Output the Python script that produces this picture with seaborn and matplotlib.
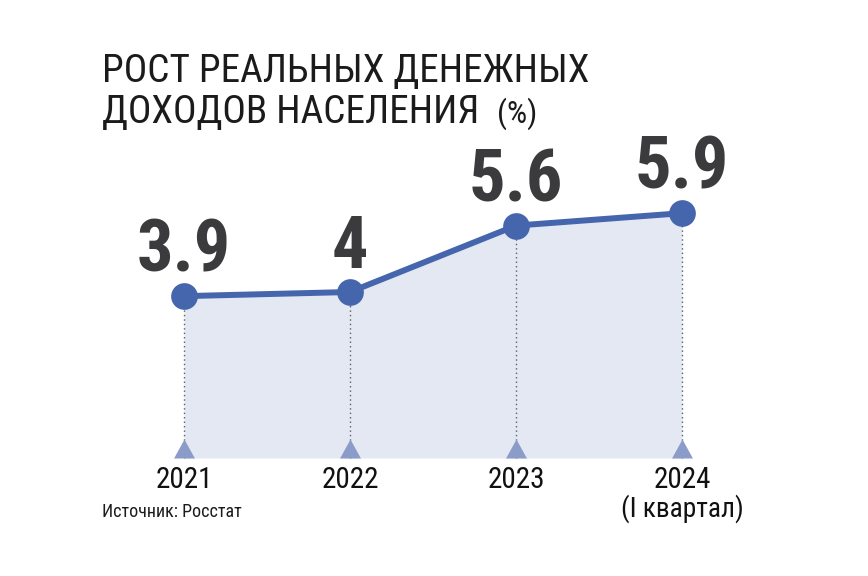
import numpy as np
import pandas as pd
import matplotlib
matplotlib.use("Agg")
import matplotlib.pyplot as plt
import seaborn as sns

years = ["2021", "2022", "2023", "2024"]
year_notes = ["", "", "", "(I квартал)"]
values = [3.9, 4.0, 5.6, 5.9]
value_labels = ["3.9", "4", "5.6", "5.9"]
title_lines = ["РОСТ РЕАЛЬНЫХ ДЕНЕЖНЫХ", "ДОХОДОВ НАСЕЛЕНИЯ"]
unit_label = "(%)"
source_label = "Источник: Росстат"

W, H = 868, 576
X0, DX = 184, 166      # pixel position of the first year, pixels per year
Y0, DY = 458, 41.5     # pixel position of zero, pixels per percent

sns.set_theme(style="white")
plt.rcParams["font.family"] = ["Roboto Condensed", "Liberation Sans", "DejaVu Sans"]

LINE = "#4566ad"
FILL = "#e4e8f3"
TRI = "#8c9cc9"

df = pd.DataFrame({"x": np.arange(len(values)), "value": values})

fig = plt.figure(figsize=(W / 100, H / 100), dpi=100)
ax = fig.add_axes([0, 0, 1, 1])
ax.set_xlim(-X0 / DX, (W - X0) / DX)
ax.set_ylim((Y0 - H) / DY, Y0 / DY)
ax.axis("off")

ax.fill_between(df["x"], 0, df["value"], color=FILL, lw=0, zorder=1)
ax.vlines(df["x"], 0, df["value"], color="#56625c", lw=1, linestyles=(0, (1, 2.2)), zorder=2)

sns.lineplot(data=df, x="x", y="value", color=LINE, lw=4.3, ax=ax, zorder=3)
sns.scatterplot(data=df, x="x", y="value", color=LINE, s=370, linewidth=0, ax=ax, zorder=4, clip_on=False)

# triangles sit with their base on the zero line
tri = [(-0.55, 0), (0.55, 0), (0, 1)]
sns.scatterplot(x=df["x"], y=[0] * len(df), marker=tri, color=TRI, s=750, linewidth=0, ax=ax, zorder=3)
ax.set_xlabel("")
ax.set_ylabel("")

for x, v, lab in zip(df["x"], values, value_labels):
    ax.annotate(lab, (x, v), xytext=(0, 17.5), textcoords="offset points", ha="center", va="baseline",
                fontsize=52, fontweight="bold", color="#3b3b3d")

for x, lab, note in zip(df["x"], years, year_notes):
    ax.annotate(lab, (x, 0), xytext=(0, -21.5), textcoords="offset points", ha="center", va="baseline",
                fontsize=21, color="#111111")
    if note:
        ax.annotate(note, (x, 0), xytext=(0, -42), textcoords="offset points", ha="center", va="baseline",
                    fontsize=19.7, color="#111111")

fig.text(102 / W, 1 - 82 / H, title_lines[0], fontsize=28.3, color="#1b1b1b", va="baseline")
fig.text(102 / W, 1 - 123 / H, title_lines[1], fontsize=28.3, color="#1b1b1b", va="baseline")
fig.text(497 / W, 1 - 123 / H, unit_label, fontsize=23, color="#1b1b1b", va="baseline")
fig.text(102 / W, 1 - 517 / H, source_label, fontsize=13, color="#1b1b1b", va="baseline")

fig.savefig("out.png", dpi=100, facecolor="white")
